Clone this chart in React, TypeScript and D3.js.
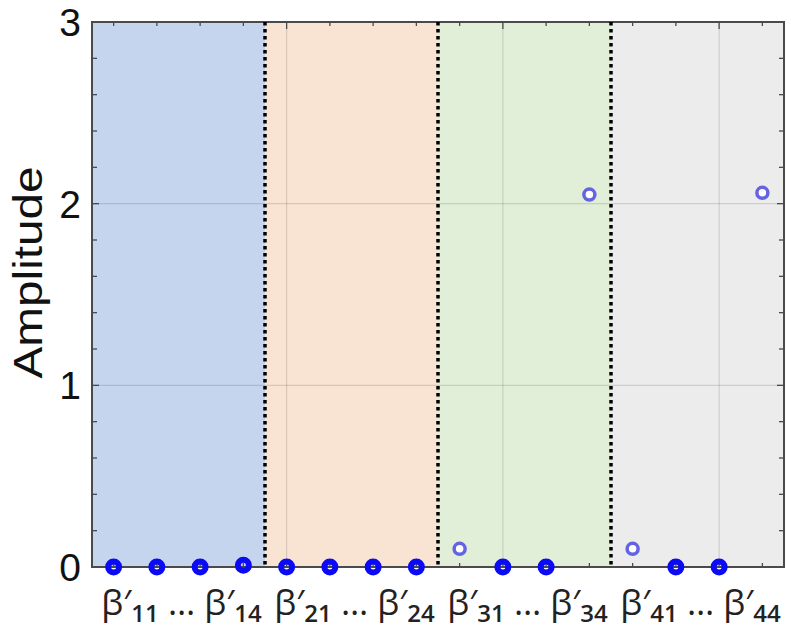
import React from "react";
import * as d3 from "d3";

// coefficients beta'_gk, 4 groups x 4
const groups = ["1", "2", "3", "4"];
const members = ["1", "2", "3", "4"];
const amplitude = [
  0, 0, 0, 0.01,
  0, 0, 0, 0,
  0.1, 0, 0, 2.05,
  0.1, 0, 0, 2.06,
];
const bandColors = ["#c6d5ee", "#f9e3d3", "#e1efd8", "#ececec"];
const yTicks = [0, 1, 2, 3];
const xGridTicks = [5, 10, 15];

const W = 791;
const H = 629;
const margin = { top: 22, right: 7, bottom: 62, left: 92 };

export default function App() {
  const innerW = W - margin.left - margin.right;
  const innerH = H - margin.top - margin.bottom;
  const n = groups.length * members.length;

  const x = d3.scaleLinear().domain([0.5, n + 0.5]).range([0, innerW]);
  const y = d3.scaleLinear().domain([0, 3]).range([innerH, 0]);

  const points = amplitude.map((v, i) => ({ i: i + 1, v }));
  const minorX = d3.range(1, n + 1);
  const minorY = d3.range(0.2, 3, 0.2);

  const frame = "#4a4a4a";
  const grid = "rgba(0,0,0,0.13)";

  return (
    <svg width={W} height={H} style={{ position: "absolute", left: 0, top: 0 }}>
      <g transform={`translate(${margin.left},${margin.top})`}>
        {/* group bands */}
        {groups.map((g, gi) => {
          const x0 = x(gi * members.length + 0.5);
          const x1 = x((gi + 1) * members.length + 0.5);
          return <rect key={g} x={x0} y={0} width={x1 - x0} height={innerH} fill={bandColors[gi]} />;
        })}

        {/* grid */}
        {xGridTicks.map((t) => (
          <line key={"gx" + t} x1={x(t)} x2={x(t)} y1={0} y2={innerH} stroke={grid} strokeWidth={1.2} />
        ))}
        {yTicks.slice(1, -1).map((t) => (
          <line key={"gy" + t} x1={0} x2={innerW} y1={y(t)} y2={y(t)} stroke={grid} strokeWidth={1.2} />
        ))}

        {/* ticks inward */}
        {minorX.map((t) => {
          const len = xGridTicks.includes(t) ? 7 : 4;
          return (
            <g key={"tx" + t}>
              <line x1={x(t)} x2={x(t)} y1={0} y2={len} stroke={frame} strokeWidth={1.3} />
              <line x1={x(t)} x2={x(t)} y1={innerH} y2={innerH - len} stroke={frame} strokeWidth={1.3} />
            </g>
          );
        })}
        {minorY.map((t) => {
          const major = Math.abs(t - Math.round(t)) < 1e-6;
          const len = major ? 7 : 5;
          return (
            <g key={"ty" + t.toFixed(1)}>
              <line x1={0} x2={len} y1={y(t)} y2={y(t)} stroke={frame} strokeWidth={1.3} />
              <line x1={innerW} x2={innerW - len} y1={y(t)} y2={y(t)} stroke={frame} strokeWidth={1.3} />
            </g>
          );
        })}

        {/* frame */}
        <rect x={0} y={0} width={innerW} height={innerH} fill="none" stroke={frame} strokeWidth={2} />

        {/* group separators */}
        {groups.slice(1).map((g, gi) => {
          const xs = x((gi + 1) * members.length + 0.5);
          return (
            <line key={"sep" + g} x1={xs} x2={xs} y1={0} y2={innerH} stroke="#000" strokeWidth={3.5} strokeDasharray="3.5,3.5" />
          );
        })}

        {/* points */}
        {points.map((p) =>
          p.v < 0.02 ? (
            <circle key={p.i} cx={x(p.i)} cy={y(p.v)} r={5.5} fill="none" stroke="#0a0af5" strokeWidth={6} />
          ) : (
            <circle key={p.i} cx={x(p.i)} cy={y(p.v)} r={5.5} fill="#fff" stroke="#6464e2" strokeWidth={3.5} />
          )
        )}

        {/* y tick labels */}
        {yTicks.map((t) => (
          <text
            key={"yl" + t}
            x={-11}
            y={y(t)}
            dy="0.36em"
            textAnchor="end"
            fontFamily="Liberation Sans, Arial, sans-serif"
            fontSize={39}
            fill="#111"
          >
            {t}
          </text>
        ))}

        {/* y label */}
        <text
          transform={`translate(${-50},${innerH / 2 - 22}) rotate(-90)`}
          textAnchor="middle"
          fontFamily="Liberation Sans, Arial, sans-serif"
          fontSize={40}
          textLength={212}
          lengthAdjust="spacingAndGlyphs"
          fill="#111"
        >
          Amplitude
        </text>

        {/* group labels */}
        {groups.map((g, gi) => {
          const cx = x(gi * members.length + (members.length + 1) / 2);
          const first = members[0];
          const last = members[members.length - 1];
          return (
            <text
              key={"xl" + g}
              x={cx + 3}
              y={innerH + 48}
              textAnchor="middle"
              fontFamily="Open Sans, Noto Sans, sans-serif"
              fontSize={35}
              fill="#222"
            >
              <tspan>β′</tspan>
              <tspan fontSize={24} fontWeight={600} dy={7}>{g + first}</tspan>
              <tspan dy={-7}> … β′</tspan>
              <tspan fontSize={24} fontWeight={600} dy={7}>{g + last}</tspan>
            </text>
          );
        })}
      </g>
    </svg>
  );
}
